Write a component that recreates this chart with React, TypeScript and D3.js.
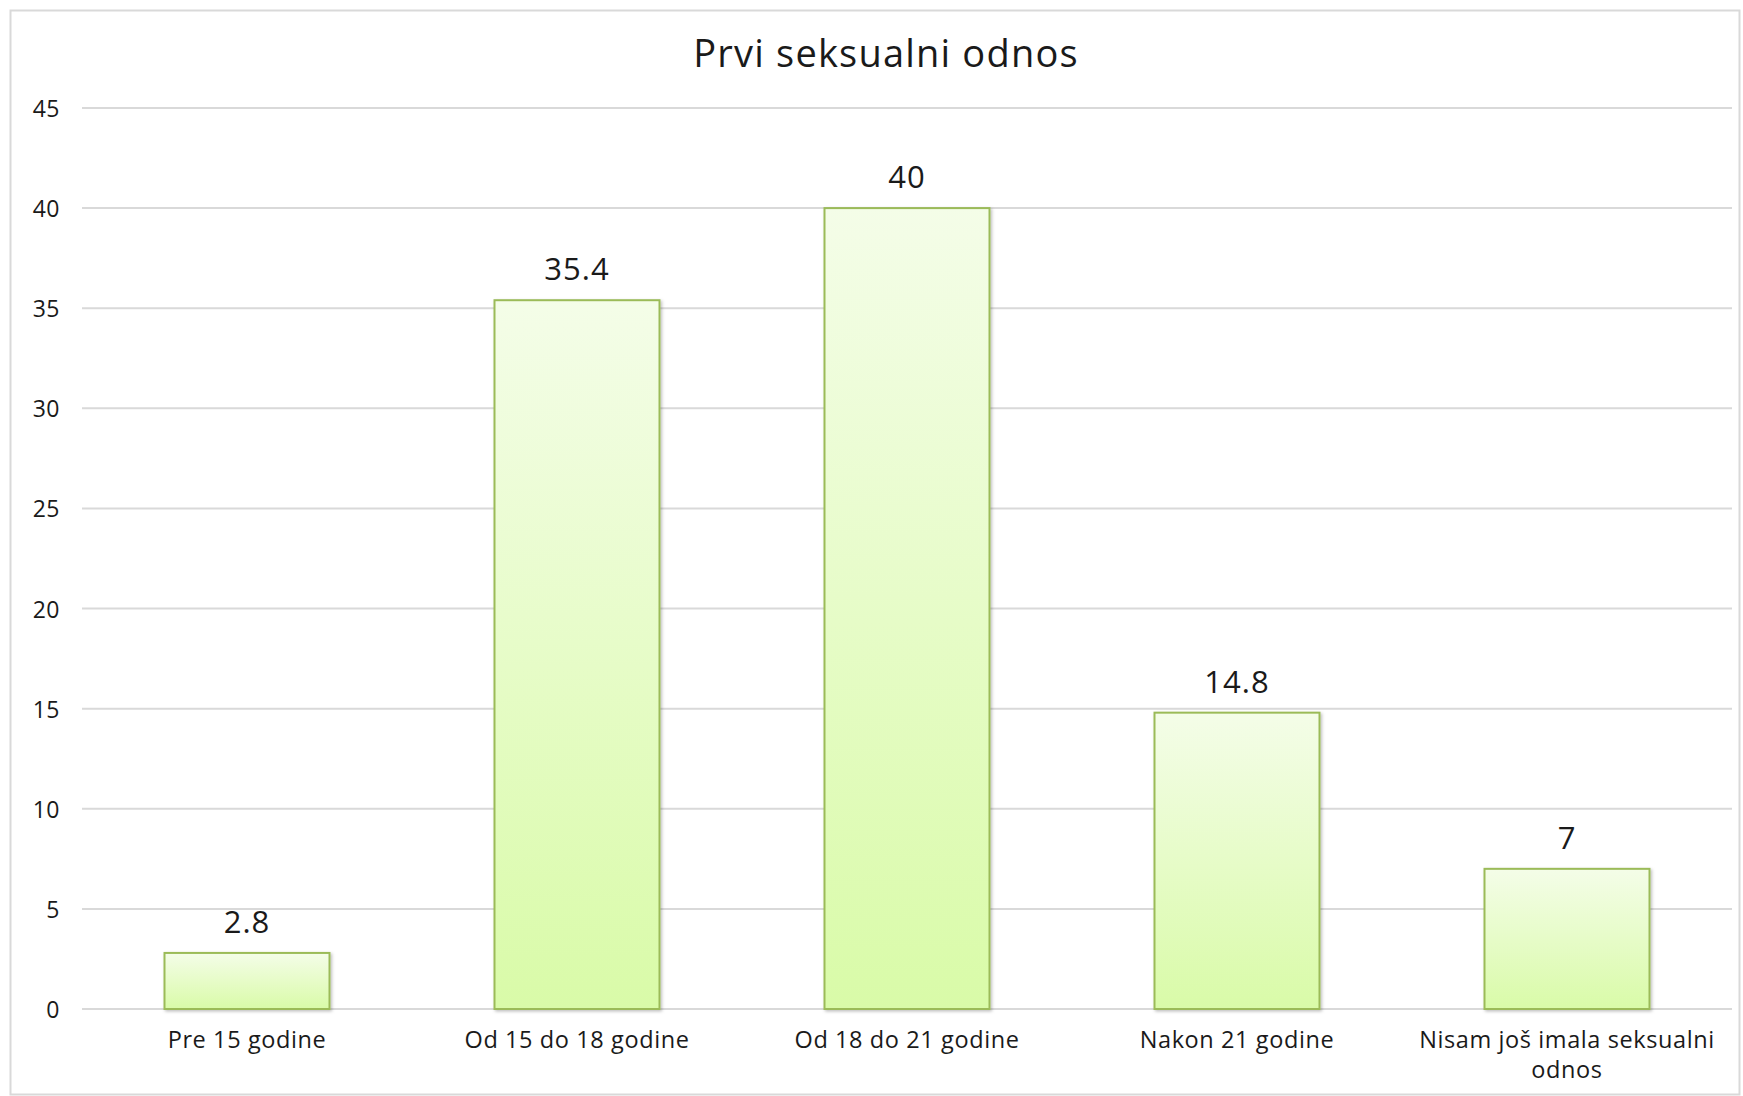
import React from "react";
import * as d3 from "d3";

const categories = ["Pre 15 godine", "Od 15 do 18 godine", "Od 18 do 21 godine", "Nakon 21 godine", "Nisam još imala seksualni odnos"];
const values = [2.8, 35.4, 40, 14.8, 7];
const yTicks = [0, 5, 10, 15, 20, 25, 30, 35, 40, 45];
const title = "Prvi seksualni odnos";

const W = 1743, H = 1096;
const FONT = "'Open Sans', 'Noto Sans', sans-serif";

function wrap(label: string, maxChars: number): string[] {
  if (label.length <= maxChars) return [label];
  const words = label.split(" ");
  const lines: string[] = [];
  let cur = "";
  for (const w of words) {
    if ((cur + " " + w).trim().length > maxChars && cur) { lines.push(cur); cur = w; }
    else cur = (cur + " " + w).trim();
  }
  if (cur) lines.push(cur);
  return lines;
}

export default function App() {
  const left = 82, right = 1732, top = 108, bottom = 1009;
  const x = d3.scaleBand<string>().domain(categories).range([left, right]).paddingInner(0.5).paddingOuter(0.25);
  const y = d3.scaleLinear().domain([0, 45]).range([bottom, top]);
  return (
    <svg width={W} height={H} style={{ position: "absolute", left: 0, top: 0, background: "#fff" }}>
      <defs>
        <linearGradient id="barg" x1="0" y1="0" x2="0" y2="1">
          <stop offset="0%" stopColor="#f4fde8" />
          <stop offset="100%" stopColor="#d9fba8" />
        </linearGradient>
        <filter id="sh" x="-10%" y="-10%" width="120%" height="120%">
          <feDropShadow dx="1.5" dy="1.5" stdDeviation="1.5" floodColor="#000" floodOpacity="0.25" />
        </filter>
      </defs>
      <rect x={10.5} y={10.5} width={W - 14} height={H - 12} fill="#fff" stroke="#d9d9d9" strokeWidth={2} />
      <text x={886} y={67} textAnchor="middle" fontFamily={FONT} fontSize={38} letterSpacing={1.2} fill="#1a1a1a">{title}</text>
      {yTicks.map(t => (
        <g key={t}>
          <line x1={left} x2={right} y1={y(t)} y2={y(t)} stroke="#d9d9d9" strokeWidth={2} />
          <text x={60} y={y(t) + 9} textAnchor="end" fontFamily={FONT} fontSize={23} letterSpacing={0.5} fill="#1a1a1a">{t}</text>
        </g>
      ))}
      {categories.map((c, i) => {
        const bx = x(c)!, bw = x.bandwidth();
        const cx = bx + bw / 2;
        const lines = wrap(c, 26);
        return (
          <g key={c}>
            <rect x={bx} y={y(values[i])} width={bw} height={y(0) - y(values[i])} fill="url(#barg)" stroke="#9bbb59" strokeWidth={2} filter="url(#sh)" />
            <text x={cx} y={y(values[i]) - 20} textAnchor="middle" fontFamily={FONT} fontSize={31} letterSpacing={1} fill="#1a1a1a">{values[i]}</text>
            {lines.map((l, j) => (
              <text key={j} x={cx} y={1048 + j * 30} textAnchor="middle" fontFamily={FONT} fontSize={23.5} letterSpacing={0.6} fill="#1a1a1a">{l}</text>
            ))}
          </g>
        );
      })}
    </svg>
  );
}
